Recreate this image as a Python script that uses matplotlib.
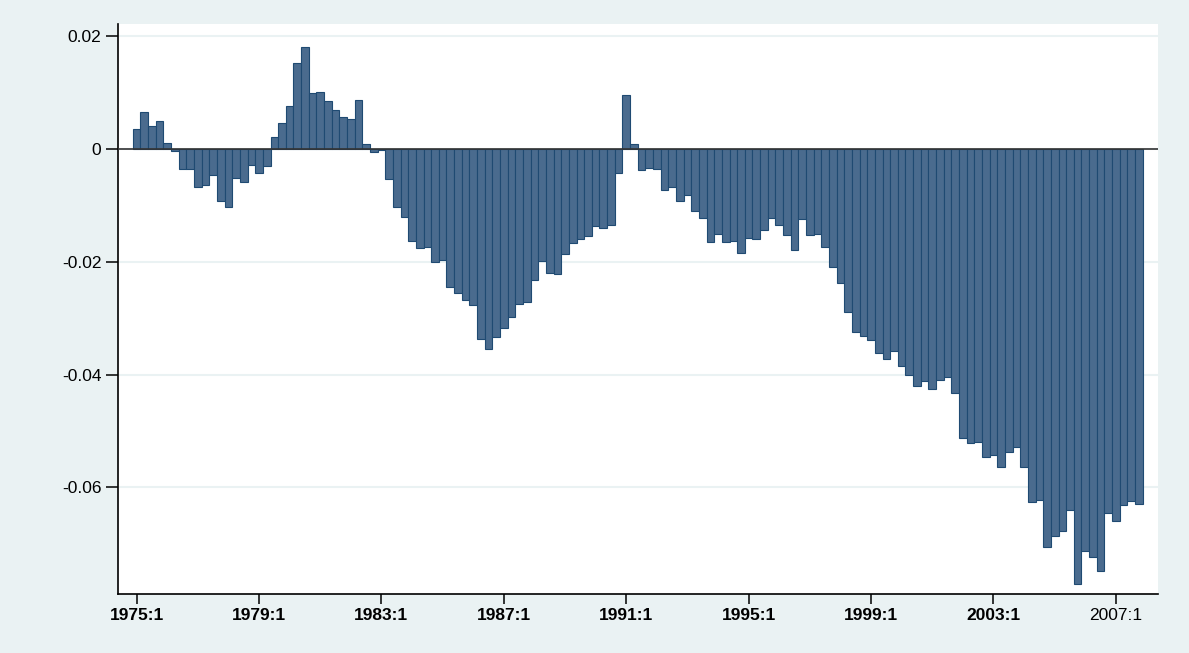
import numpy as np
import matplotlib.pyplot as plt

plt.rcParams['font.family'] = ['Liberation Sans', 'DejaVu Sans']

# quarterly values, 1975:1 .. 2007:4
years = list(range(1975, 2008))
values = [
    0.0035, 0.0065, 0.0040, 0.0049,       # 1975
    0.0010, -0.0004, -0.0035, -0.0035,    # 1976
    -0.0068, -0.0063, -0.0046, -0.0093,   # 1977
    -0.0102, -0.0052, -0.0058, -0.0028,   # 1978
    -0.0043, -0.0030, 0.0022, 0.0046,     # 1979
    0.0077, 0.0153, 0.0181, 0.0099,       # 1980
    0.0101, 0.0085, 0.0070, 0.0057,       # 1981
    0.0053, 0.0087, 0.0009, -0.0005,      # 1982
    -0.0002, -0.0054, -0.0102, -0.0121,   # 1983
    -0.0164, -0.0176, -0.0173, -0.0201,   # 1984
    -0.0197, -0.0244, -0.0256, -0.0268,   # 1985
    -0.0277, -0.0337, -0.0355, -0.0334,   # 1986
    -0.0317, -0.0298, -0.0274, -0.0272,   # 1987
    -0.0233, -0.0199, -0.0220, -0.0222,   # 1988
    -0.0186, -0.0167, -0.0160, -0.0154,   # 1989
    -0.0137, -0.0140, -0.0135, -0.0043,   # 1990
    0.0096, 0.0008, -0.0037, -0.0033,     # 1991
    -0.0036, -0.0073, -0.0068, -0.0093,   # 1992
    -0.0082, -0.0110, -0.0123, -0.0165,   # 1993
    -0.0151, -0.0165, -0.0164, -0.0184,   # 1994
    -0.0157, -0.0159, -0.0143, -0.0122,   # 1995
    -0.0134, -0.0153, -0.0179, -0.0124,   # 1996
    -0.0153, -0.0151, -0.0173, -0.0210,   # 1997
    -0.0238, -0.0289, -0.0325, -0.0331,   # 1998
    -0.0338, -0.0361, -0.0373, -0.0359,   # 1999
    -0.0384, -0.0400, -0.0421, -0.0412,   # 2000
    -0.0425, -0.0409, -0.0405, -0.0433,   # 2001
    -0.0513, -0.0522, -0.0520, -0.0547,   # 2002
    -0.0543, -0.0563, -0.0538, -0.0528,   # 2003
    -0.0564, -0.0626, -0.0623, -0.0706,   # 2004
    -0.0687, -0.0677, -0.0640, -0.0771,   # 2005
    -0.0712, -0.0724, -0.0749, -0.0645,   # 2006
    -0.0659, -0.0632, -0.0625, -0.0629,   # 2007
]
quarters = [f"{y}:{q}" for y in years for q in range(1, 5)]
xtick_labels = ["1975:1", "1979:1", "1983:1", "1987:1", "1991:1",
                "1995:1", "1999:1", "2003:1", "2007:1"]
yticks = [0.02, 0, -0.02, -0.04, -0.06]
ytick_labels = ["0.02", "0", "-0.02", "-0.04", "-0.06"]

bg = '#eaf2f3'
fig = plt.figure(figsize=(11.89, 6.53), dpi=100, facecolor=bg)
ax = fig.add_axes([0.0992, 0.0904, 0.8747, 0.8721])
ax.set_facecolor('white')

x = np.arange(len(values))
ax.bar(x, values, width=1.0, color='#4a6b8e', edgecolor='#1f4a72', linewidth=0.8, zorder=3)
ax.axhline(0, color='#333333', linewidth=1.2, zorder=4)

ax.set_xlim(-2.44, 133.5)
ax.set_ylim(-0.0789, 0.02208)

ax.set_yticks(yticks)
ax.set_yticklabels(ytick_labels, fontsize=12.5)
ax.yaxis.grid(True, color=bg, linewidth=1.5, zorder=0)
ax.set_axisbelow(True)

xt = [quarters.index(l) for l in xtick_labels]
ax.set_xticks(xt)
ax.set_xticklabels(xtick_labels, fontsize=12.5)
for t in ax.get_xticklabels()[:-1]:
    t.set_fontweight('bold')

ax.tick_params(axis='y', length=9, width=1.1, pad=3, colors='black')
ax.tick_params(axis='x', length=7, width=1.1, pad=3, colors='black')

for s in ['top', 'right']:
    ax.spines[s].set_visible(False)
for s in ['left', 'bottom']:
    ax.spines[s].set_linewidth(1.2)
    ax.spines[s].set_color('black')

fig.savefig('out.png', dpi=100, facecolor=bg)
